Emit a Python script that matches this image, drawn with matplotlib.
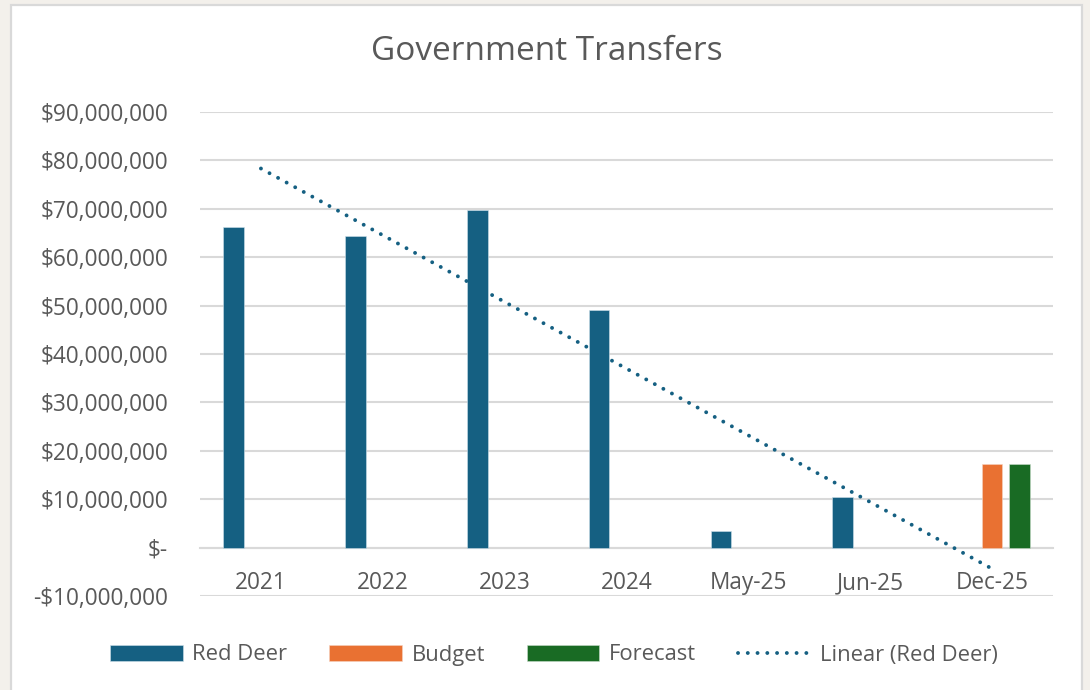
import numpy as np
import matplotlib.pyplot as plt
from matplotlib.patches import Patch, Rectangle
from matplotlib.lines import Line2D
from matplotlib.ticker import FuncFormatter

plt.rcParams["font.family"] = ["Open Sans", "DejaVu Sans"]

# dati
categories = ["2021", "2022", "2023", "2024", "May-25", "Jun-25", "Dec-25"]
red_deer = [66.3e6, 64.3e6, 69.7e6, 49.0e6, 3.4e6, 10.5e6]   # Dec-25 vuoto
budget_dec25 = 17.3e6
forecast_dec25 = 17.3e6

c_blue = "#156082"
c_orange = "#E97132"
c_green = "#196B24"
c_text = "#595959"
c_grid = "#d9d9d9"


def accounting(v, pos):
    if abs(v) < 1:
        return "$-"
    if v < 0:
        return f"-${abs(v):,.0f}"
    return f"${v:,.0f}"


fig = plt.figure(figsize=(10.9, 6.9), dpi=100, facecolor="#f3f0eb")

# area grafico bianca con bordo grigio
fig.patches.append(Rectangle((11 / 1090, -0.02), 1071 / 1090, 1.02 - 5 / 690,
                             transform=fig.transFigure, facecolor="white",
                             edgecolor=c_grid, lw=1.6, zorder=-1))

ax = fig.add_axes([200 / 1090, 1 - 596 / 690, 853 / 1090, 484 / 690])
ax.set_facecolor("none")

x = np.arange(len(categories))
w = 0.17
off = 0.225

ax.bar(x[:len(red_deer)] - off, red_deer, w, color=c_blue, edgecolor="#cfe0ea",
       linewidth=0.4, zorder=3)
i_dec = categories.index("Dec-25")
ax.bar(i_dec, budget_dec25, w, color=c_orange, edgecolor="#f6d3c0", linewidth=0.4, zorder=3)
ax.bar(i_dec + off, forecast_dec25, w, color=c_green, edgecolor="#c9dccb", linewidth=0.4, zorder=3)

# trend lineare sui valori Red Deer (x = 1..n)
dots = (0, (0.01, 2.5))
xs = np.arange(1, len(red_deer) + 1)
slope, intercept = np.polyfit(xs, red_deer, 1)
xt = np.arange(1, len(categories) + 1)
ax.plot(xt - 1, slope * xt + intercept, color=c_blue, lw=2.8,
        linestyle=dots, dash_capstyle="round", zorder=4)

ax.set_xlim(-0.5, len(categories) - 0.5)
ax.set_ylim(-10e6, 90e6)
ax.set_yticks(np.arange(-10e6, 90e6 + 1, 10e6))
ax.yaxis.set_major_formatter(FuncFormatter(accounting))
ax.grid(True, axis="y", color=c_grid, lw=1.5, zorder=0)
ax.set_axisbelow(True)

for s in ["top", "right", "left"]:
    ax.spines[s].set_visible(False)
ax.spines["bottom"].set_position(("data", 0))
ax.spines["bottom"].set_color(c_grid)
ax.spines["bottom"].set_linewidth(1.5)

ax.set_xticks(x)
ax.set_xticklabels(categories)
ax.tick_params(axis="x", length=0, pad=17, labelsize=16.3, labelcolor=c_text)
ax.tick_params(axis="y", length=0, pad=23, labelsize=16.3, labelcolor=c_text)

fig.text(547 / 1090, 1 - 52 / 690, "Government Transfers", ha="center", va="center",
         fontsize=24, color=c_text)

handles = [
    Patch(facecolor=c_blue, edgecolor="#cfe0ea", lw=0.4),
    Patch(facecolor=c_orange, edgecolor="#f6d3c0", lw=0.4),
    Patch(facecolor=c_green, edgecolor="#c9dccb", lw=0.4),
    Line2D([], [], color=c_blue, lw=2.8, linestyle=dots, dash_capstyle="round"),
]
labels = ["Red Deer", "Budget", "Forecast", "Linear (Red Deer)"]
leg = fig.legend(handles, labels, loc="center", bbox_to_anchor=(554 / 1090, 1 - 655 / 690),
                 ncol=4, frameon=False, fontsize=15.8, handlelength=3.3, handleheight=0.7,
                 handletextpad=0.45, columnspacing=1.9)
for t in leg.get_texts():
    t.set_color(c_text)

fig.savefig("out.png", dpi=100, facecolor=fig.get_facecolor())
